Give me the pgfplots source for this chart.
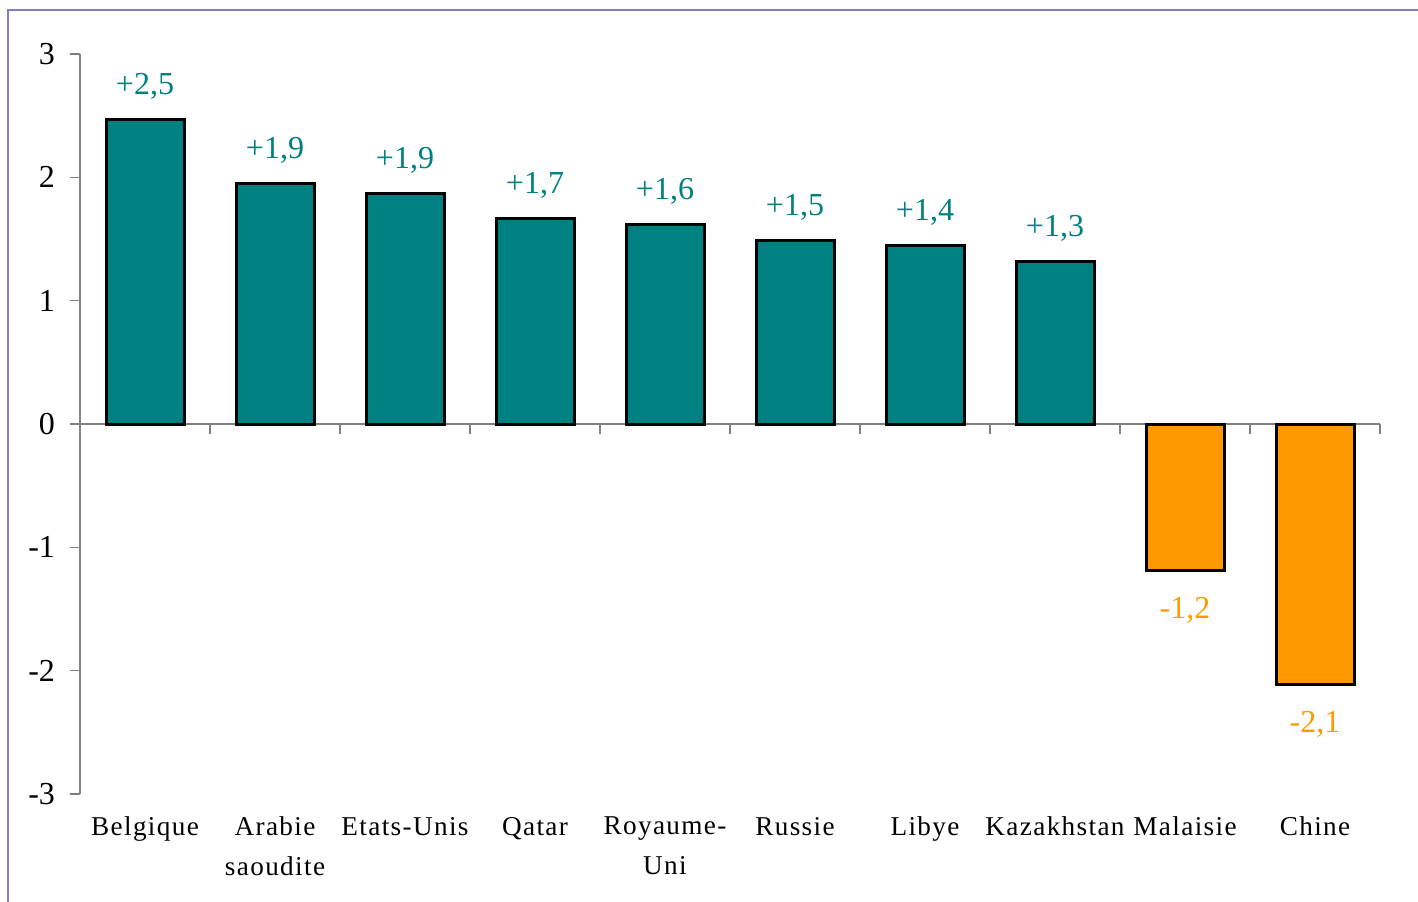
\documentclass[border=0pt]{standalone}
\usepackage{fontspec}
\setmainfont{Liberation Serif}
\usepackage{pgfplots}
\pgfplotsset{compat=1.18}
\usepackage{pgfplotstable}
\definecolor{barteal}{HTML}{008080}
\definecolor{barorange}{HTML}{FF9900}
\definecolor{framecol}{RGB}{128,128,192}
\pgfplotstableread{
x y lab
0 2.47 +2,5
1 1.95 +1,9
2 1.87 +1,9
3 1.67 +1,7
4 1.62 +1,6
5 1.49 +1,5
6 1.45 +1,4
7 1.32 +1,3
}\pos
\pgfplotstableread{
x y lab
8 -1.19 -1,2
9 -2.11 -2,1
}\neg
\begin{document}
\begin{tikzpicture}
\useasboundingbox (0,0) rectangle (709pt,450.5pt);
\draw[framecol, line width=0.6pt] (4pt,-20pt) rectangle (730pt,445.5pt);
\begin{axis}[
  at={(40pt,53.5pt)}, anchor=south west,
  scale only axis, width=650pt, height=370pt,
  xmin=-0.5, xmax=9.5, ymin=-3, ymax=3,
  axis y line*=left, axis x line*=bottom,
  x axis line style={draw=none},
  y axis line style={gray, line width=0.6pt},
  xtick={0,...,9},
  xticklabels={Belgique,{Arabie\\saoudite},Etats-Unis,Qatar,{Royaume-\\Uni},Russie,Libye,Kazakhstan,Malaisie,Chine},
  xticklabel style={align=center, yshift=-3pt, font=\fontsize{13.6pt}{20pt}\selectfont\addfontfeatures{LetterSpace=5}},
  x tick style={draw=none},
  ytick={-3,...,3},
  yticklabels={-3,-2,-1,0,1,2,3},
  yticklabel style={xshift=-4pt, font=\fontsize{16pt}{19pt}\selectfont},
  y tick style={gray, line width=0.6pt},
  tick align=outside, major tick length=5pt,
  ybar, bar width=39pt, bar shift=0pt,
  clip=false,
  point meta=explicit symbolic,
  nodes near coords,
]
\draw[gray, line width=0.6pt] (axis cs:-0.5,0) -- (axis cs:9.5,0);
\pgfplotsinvokeforeach{0.5,1.5,...,9.5}{\draw[gray, line width=0.6pt] (axis cs:#1,0) -- ([yshift=-5pt]axis cs:#1,0);}
\addplot[fill=barteal, draw=black, line width=1.5pt,
  nodes near coords style={anchor=base, yshift=12.5pt, text=barteal, font=\fontsize{16pt}{19pt}\selectfont}]
  table[x=x, y=y, meta=lab] {\pos};
\addplot[fill=barorange, draw=black, line width=1.5pt,
  nodes near coords style={anchor=base, yshift=-24pt, text=barorange, font=\fontsize{16pt}{19pt}\selectfont}]
  table[x=x, y=y, meta=lab] {\neg};
\end{axis}
\end{tikzpicture}
\end{document}
